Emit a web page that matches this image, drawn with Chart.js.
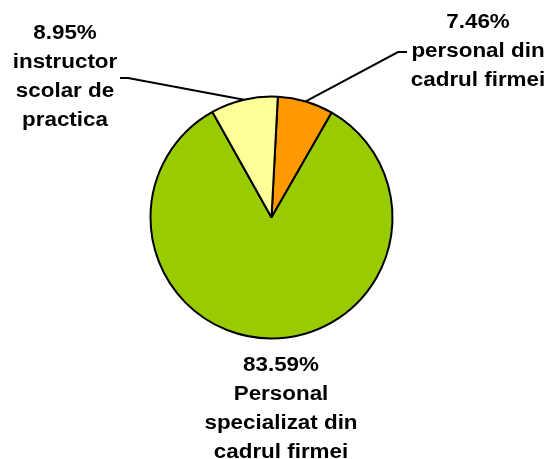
<!DOCTYPE html>
<html>
<head>
<meta charset="utf-8">
<style>
  html, body { margin: 0; padding: 0; background: #fff; }
  #wrap { width: 547px; height: 459px; }
</style>
<script src="https://cdn.jsdelivr.net/npm/chart.js@4/dist/chart.umd.min.js"></script>
</head>
<body>
<div id="wrap"><canvas id="chart" width="547" height="459"></canvas></div>
<script>
const categories = ['personal din cadrul firmei', 'Personal specializat din cadrul firmei', 'instructor scolar de practica'];
const shares = [7.46, 83.59, 8.95];
const labelLines = [
  ['personal din', 'cadrul firmei'],
  ['Personal', 'specializat din', 'cadrul firmei'],
  ['instructor', 'scolar de', 'practica']
];
const colors = ['#FF9900', '#99CC00', '#FFFF99'];

// where each label block sits and where its leader line starts
const labelSpots = [
  { x: 478, y: 22, line: [[407, 52], [398, 52]] },
  { x: 281, y: 365, line: null },
  { x: 65, y: 33, line: [[120, 78], [128, 78]] }
];

const labelPlugin = {
  id: 'pieLabels',
  afterDatasetsDraw(chart) {
    const ctx = chart.ctx;
    const arcs = chart.getDatasetMeta(0).data;
    ctx.save();
    arcs.forEach((arc, i) => {
      const spot = labelSpots[i];
      if (spot.line) {
        const mid = (arc.startAngle + arc.endAngle) / 2;
        const ex = arc.x + Math.cos(mid) * arc.outerRadius;
        const ey = arc.y + Math.sin(mid) * arc.outerRadius;
        ctx.strokeStyle = '#000';
        ctx.lineWidth = 2;
        ctx.beginPath();
        ctx.moveTo(spot.line[0][0], spot.line[0][1]);
        ctx.lineTo(spot.line[1][0], spot.line[1][1]);
        ctx.lineTo(ex, ey);
        ctx.stroke();
      }
      const lines = [shares[i].toFixed(2) + '%'].concat(labelLines[i]);
      ctx.fillStyle = '#000';
      ctx.font = 'bold 20px "Liberation Sans", Arial, sans-serif';
      ctx.textAlign = 'center';
      ctx.textBaseline = 'middle';
      lines.forEach((t, k) => {
        ctx.save();
        ctx.translate(spot.x, spot.y + k * 29.3);
        ctx.scale(1.12, 1);
        ctx.fillText(t, 0, 0);
        ctx.restore();
      });
    });
    ctx.restore();
  }
};

new Chart(document.getElementById('chart'), {
  type: 'pie',
  data: {
    labels: categories,
    datasets: [{
      data: shares,
      backgroundColor: colors,
      borderColor: '#000',
      borderWidth: 2
    }]
  },
  options: {
    responsive: false,
    animation: false,
    rotation: 3,
    radius: 121,
    layout: { padding: { left: 149, right: 153, top: 96, bottom: 120 } },
    plugins: {
      legend: { display: false },
      tooltip: { enabled: false }
    }
  },
  plugins: [labelPlugin]
});
</script>
</body>
</html>
